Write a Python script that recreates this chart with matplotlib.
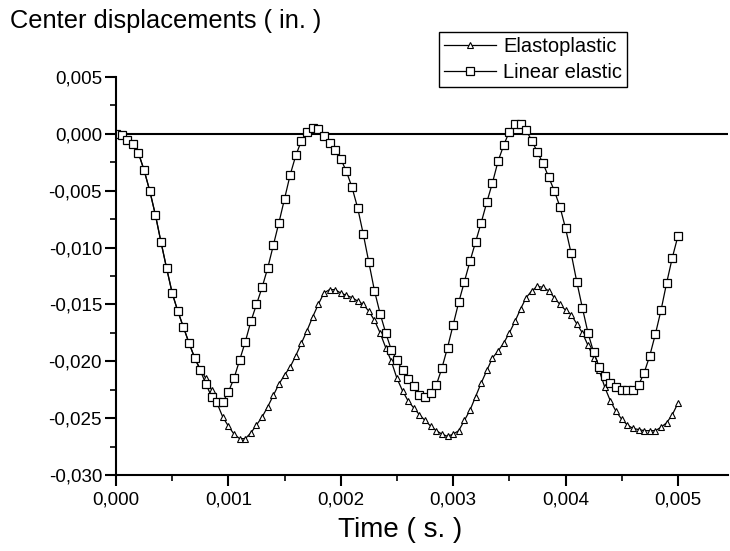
import matplotlib
matplotlib.use('Agg')
import matplotlib.pyplot as plt
from matplotlib.ticker import MultipleLocator, FuncFormatter
import numpy as np

plt.rcParams['font.family'] = ['Liberation Sans', 'DejaVu Sans']

# time step between samples (s)
dt = 0.00005

linear_elastic = [
    0.0, -0.0001, -0.0005, -0.0009, -0.0017, -0.0032, -0.0050, -0.0071, -0.0095, -0.0118,
    -0.0140, -0.0156, -0.0170, -0.0184, -0.0197, -0.0208, -0.0220, -0.0231, -0.0236, -0.0236,
    -0.0227, -0.0215, -0.0199, -0.0183, -0.0165, -0.0150, -0.0135, -0.0118, -0.0098, -0.0078,
    -0.0057, -0.0036, -0.0019, -0.0006, 0.0002, 0.0005, 0.0004, -0.0002, -0.0008, -0.0014,
    -0.0022, -0.0033, -0.0047, -0.0065, -0.0088, -0.0113, -0.0138, -0.0158, -0.0175, -0.0190,
    -0.0199, -0.0208, -0.0216, -0.0222, -0.0230, -0.0231, -0.0228, -0.0221, -0.0206, -0.0188,
    -0.0168, -0.0148, -0.0130, -0.0112, -0.0095, -0.0078, -0.0060, -0.0043, -0.0024, -0.0010,
    0.0002, 0.0009, 0.0009, 0.0003, -0.0006, -0.0016, -0.0026, -0.0038, -0.0050, -0.0064,
    -0.0083, -0.0105, -0.0130, -0.0153, -0.0175, -0.0192, -0.0205, -0.0213, -0.0219, -0.0223,
    -0.0225, -0.0225, -0.0225, -0.0221, -0.0210, -0.0195, -0.0176, -0.0155, -0.0131, -0.0109,
    -0.0090,
]

elastoplastic = [
    0.0, -0.0001, -0.0005, -0.0009, -0.0017, -0.0032, -0.0050, -0.0071, -0.0095, -0.0118,
    -0.0140, -0.0156, -0.0170, -0.0184, -0.0197, -0.0207, -0.0215, -0.0225, -0.0237, -0.0249,
    -0.0257, -0.0264, -0.0268, -0.0268, -0.0263, -0.0256, -0.0249, -0.0240, -0.0230, -0.0220,
    -0.0212, -0.0205, -0.0195, -0.0184, -0.0173, -0.0161, -0.0150, -0.0140, -0.0137, -0.0137,
    -0.0140, -0.0142, -0.0144, -0.0147, -0.0150, -0.0156, -0.0164, -0.0175, -0.0188, -0.0200,
    -0.0215, -0.0226, -0.0235, -0.0241, -0.0247, -0.0252, -0.0257, -0.0261, -0.0264, -0.0266,
    -0.0264, -0.0261, -0.0252, -0.0243, -0.0231, -0.0219, -0.0208, -0.0197, -0.0191, -0.0184,
    -0.0175, -0.0165, -0.0154, -0.0144, -0.0138, -0.0134, -0.0135, -0.0138, -0.0144, -0.0150,
    -0.0155, -0.0159, -0.0167, -0.0175, -0.0186, -0.0197, -0.0208, -0.0223, -0.0235, -0.0244,
    -0.0251, -0.0256, -0.0259, -0.0260, -0.0261, -0.0261, -0.0261, -0.0258, -0.0254, -0.0247,
    -0.0237,
]

time = np.arange(len(linear_elastic)) * dt

fig = plt.figure(figsize=(7.30, 5.51), dpi=100)
ax = fig.add_axes([0.1589, 0.1379, 0.839, 0.7224])

ax.plot(time, elastoplastic, color='black', lw=0.9, marker='^', ms=5,
        mfc='white', mec='black', mew=0.8, label='Elastoplastic')
ax.plot(time, linear_elastic, color='black', lw=0.9, marker='s', ms=5.5,
        mfc='white', mec='black', mew=0.9, label='Linear elastic')
ax.axhline(0, color='black', lw=1.5, zorder=1)

ax.set_xlim(0, 0.00545)
ax.set_ylim(-0.030, 0.005)

for side in ['top', 'right']:
    ax.spines[side].set_visible(False)
for side in ['left', 'bottom']:
    ax.spines[side].set_linewidth(1.5)

ax.xaxis.set_major_locator(MultipleLocator(0.001))
ax.xaxis.set_minor_locator(MultipleLocator(0.0005))
ax.yaxis.set_major_locator(MultipleLocator(0.005))
ax.yaxis.set_minor_locator(MultipleLocator(0.0025))
comma = FuncFormatter(lambda v, p: f'{v:.3f}'.replace('.', ',').replace('-0,000', '0,000'))
ax.xaxis.set_major_formatter(comma)
ax.yaxis.set_major_formatter(comma)
ax.tick_params(which='major', direction='out', length=8, width=1.5, labelsize=13.5, pad=2)
ax.tick_params(axis='x', which='major', pad=4)
ax.tick_params(which='minor', direction='out', length=4, width=1.2)

fig.text(10 / 730, 1 - 28 / 551, 'Center displacements ( in. )', fontsize=18.3, va='baseline')
fig.text(400 / 730, 1 - 537 / 551, 'Time ( s. )', fontsize=20, ha='center', va='baseline')

leg = fig.legend(loc='upper left', bbox_to_anchor=(439 / 730, 1 - 32 / 551),
                 fontsize=14.5, frameon=True, fancybox=False, framealpha=1,
                 edgecolor='black', borderpad=0.25, labelspacing=0.35,
                 handlelength=2.6, handletextpad=0.35, borderaxespad=0)
leg.get_frame().set_linewidth(1.0)

plt.savefig('out.png', dpi=100)
